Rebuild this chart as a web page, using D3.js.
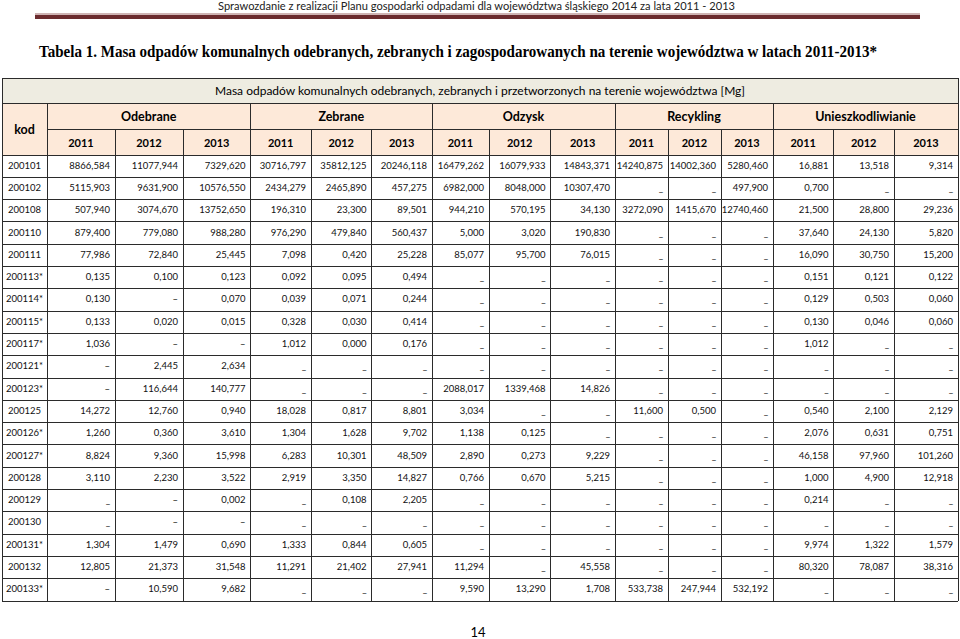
<!DOCTYPE html>
<html>
<head>
<meta charset="utf-8">
<script src="https://cdn.jsdelivr.net/npm/d3@7"></script>
<style>
  body { margin: 0; background: #fff; }
  svg { display: block; }
</style>
</head>
<body>
<div id="chart"></div>
<script>
// Table data ("–" and "_" are the two kinds of empty marks)
const groups = ["Odebrane", "Zebrane", "Odzysk", "Recykling", "Unieszkodliwianie"];
const years = ["2011", "2012", "2013"];
const codes = ["200101", "200102", "200108", "200110", "200111", "200113*", "200114*", "200115*",
  "200117*", "200121*", "200123*", "200125", "200126*", "200127*", "200128", "200129", "200130",
  "200131*", "200132", "200133*"];

const odebrane = [
  [8866.584, 11077.944, 7329.62], [5115.903, 9631.9, 10576.55], [507.94, 3074.67, 13752.65],
  [879.4, 779.08, 988.28], [77.986, 72.84, 25.445], [0.135, 0.1, 0.123], [0.13, "–", 0.07],
  [0.133, 0.02, 0.015], [1.036, "–", "–"], ["–", 2.445, 2.634], ["–", 116.644, 140.777],
  [14.272, 12.76, 0.94], [1.26, 0.36, 3.61], [8.824, 9.36, 15.998], [3.11, 2.23, 3.522],
  ["_", "–", 0.002], ["_", "–", "–"], [1.304, 1.479, 0.69], [12.805, 21.373, 31.548], ["–", 10.59, 9.682]
];
const zebrane = [
  [30716.797, 35812.125, 20246.118], [2434.279, 2465.89, 457.275], [196.31, 23.3, 89.501],
  [976.29, 479.84, 560.437], [7.098, 0.42, 25.228], [0.092, 0.095, 0.494], [0.039, 0.071, 0.244],
  [0.328, 0.03, 0.414], [1.012, 0.0, 0.176], ["_", "_", "_"], ["_", "_", "_"],
  [18.028, 0.817, 8.801], [1.304, 1.628, 9.702], [6.283, 10.301, 48.509], [2.919, 3.35, 14.827],
  ["_", 0.108, 2.205], ["_", "_", "_"], [1.333, 0.844, 0.605], [11.291, 21.402, 27.941], ["_", "_", "_"]
];
const odzysk = [
  [16479.262, 16079.933, 14843.371], [6982.0, 8048.0, 10307.47], [944.21, 570.195, 34.13],
  [5.0, 3.02, 190.83], [85.077, 95.7, 76.015], ["_", "_", "_"], ["_", "_", "_"], ["_", "_", "_"],
  ["_", "_", "_"], ["_", "_", "_"], [2088.017, 1339.468, 14.826], [3.034, "_", "_"],
  [1.138, 0.125, "_"], [2.89, 0.273, 9.229], [0.766, 0.67, 5.215], ["_", "_", "_"], ["_", "_", "_"],
  ["_", "_", "_"], [11.294, "_", 45.558], [9.59, 13.29, 1.708]
];
const recykling = [
  [14240.875, 14002.36, 5280.46], ["_", "_", 497.9], [3272.09, 1415.67, 12740.46],
  ["_", "_", "_"], ["_", "_", "_"], ["_", "_", "_"], ["_", "_", "_"], ["_", "_", "_"],
  ["_", "_", "_"], ["_", "_", "_"], ["_", "_", "_"], [11.6, 0.5, "_"], ["_", "_", "_"],
  ["_", "_", "_"], ["_", "_", "_"], ["_", "_", "_"], ["_", "_", "_"], ["_", "_", "_"],
  ["_", "_", "_"], [533.738, 247.944, 532.192]
];
const unieszkodliwianie = [
  [16.881, 13.518, 9.314], [0.7, "_", "_"], [21.5, 28.8, 29.236], [37.64, 24.13, 5.82],
  [16.09, 30.75, 15.2], [0.151, 0.121, 0.122], [0.129, 0.503, 0.06], [0.13, 0.046, 0.06],
  [1.012, "_", "_"], ["_", "_", "_"], ["_", "_", "_"], [0.54, 2.1, 2.129], [2.076, 0.631, 0.751],
  [46.158, 97.96, 101.26], [1.0, 4.9, 12.918], [0.214, "_", "_"], ["_", "_", "_"],
  [9.974, 1.322, 1.579], [80.32, 78.087, 38.316], ["_", "_", "_"]
];

const pageHeader = "Sprawozdanie z realizacji Planu gospodarki odpadami dla województwa śląskiego 2014 za lata 2011 - 2013";
const tableTitle = "Tabela 1. Masa odpadów komunalnych odebranych, zebranych i zagospodarowanych na terenie województwa w latach 2011-2013*";
const tableCaption = "Masa odpadów komunalnych odebranych, zebranych i przetworzonych na terenie województwa [Mg]";
const pageNumber = "14";

class DataTable {
  constructor(_config) {
    this.config = {
      parentElement: _config.parentElement,
      containerWidth: 960,
      containerHeight: 639,
      // table frame
      left: 2,
      right: 958,
      top: 78,
      captionBottom: 103,
      groupBottom: 129,
      headBottom: 155,
      bottom: 601,
      // relative widths of kod + 15 value columns
      colWeights: [45, 68, 68, 67.5, 60.5, 60.5, 60.5, 57, 61.5, 64.5, 53, 53, 52, 60.5, 60.5, 64],
      cellPadding: 5,
      font: "Lato, 'Open Sans', sans-serif",
    };
    this.initVis();
  }

  initVis() {
    let vis = this;
    const c = vis.config;

    vis.svg = d3.select(c.parentElement).append("svg")
      .attr("width", c.containerWidth)
      .attr("height", c.containerHeight);

    vis.svg.append("rect")
      .attr("width", c.containerWidth)
      .attr("height", c.containerHeight)
      .attr("fill", "#fff");

    // Column edges from the relative widths
    vis.edges = [0, ...d3.cumsum(c.colWeights)];
    vis.x = d3.scaleLinear()
      .domain([0, d3.sum(c.colWeights)])
      .range([c.left, c.right]);

    vis.y = d3.scaleBand()
      .domain(codes)
      .range([c.headBottom, c.bottom]);

    vis.fmt = d3.formatLocale({ decimal: ",", thousands: "\u00a0", grouping: [3], currency: ["", ""] })
      .format(".3f");

    vis.renderVis();
  }

  colLeft(i) { return this.x(this.edges[i]); }
  colRight(i) { return this.x(this.edges[i + 1]); }
  colMid(i) { return (this.colLeft(i) + this.colRight(i)) / 2; }

  renderVis() {
    let vis = this;
    const c = vis.config;

    // Running page header with the maroon rule under it
    vis.svg.append("text")
      .attr("x", 218)
      .attr("y", 10)
      .attr("textLength", 517)
      .attr("lengthAdjust", "spacingAndGlyphs")
      .style("font-family", "'Liberation Sans Narrow', " + c.font)
      .style("font-size", "11px")
      .style("fill", "#222")
      .text(pageHeader);

    vis.svg.append("rect")
      .attr("x", 35).attr("y", 13.5).attr("width", 885).attr("height", 1)
      .attr("fill", "#a06b6b");
    vis.svg.append("rect")
      .attr("x", 35).attr("y", 15).attr("width", 885).attr("height", 4)
      .attr("fill", "#6b2b2e");

    vis.svg.append("text")
      .attr("x", 39)
      .attr("y", 57)
      .attr("textLength", 838)
      .attr("lengthAdjust", "spacingAndGlyphs")
      .style("font-family", "'Liberation Serif', 'Times New Roman', serif")
      .style("font-weight", "bold")
      .style("font-size", "16.5px")
      .style("fill", "#000")
      .text(tableTitle);

    // Header backgrounds
    vis.svg.append("rect")
      .attr("x", c.left).attr("y", c.top)
      .attr("width", c.right - c.left).attr("height", c.captionBottom - c.top)
      .attr("fill", "#eeece1");
    vis.svg.append("rect")
      .attr("x", c.left).attr("y", c.captionBottom)
      .attr("width", c.right - c.left).attr("height", c.headBottom - c.captionBottom)
      .attr("fill", "#fde9d9");

    // Grid lines
    const grid = vis.svg.append("g")
      .attr("stroke", "#2b2b2b")
      .attr("stroke-width", 1)
      .attr("shape-rendering", "crispEdges");

    const hLines = [
      { y: c.top, x0: c.left },
      { y: c.captionBottom, x0: c.left },
      { y: c.groupBottom, x0: vis.colLeft(1) },
      { y: c.headBottom, x0: c.left },
      ...codes.slice(1).map((d) => ({ y: vis.y(d), x0: c.left })),
      { y: c.bottom, x0: c.left },
    ];
    grid.selectAll(".h-line")
      .data(hLines)
      .join("line")
      .attr("class", "h-line")
      .attr("x1", (d) => d.x0)
      .attr("x2", c.right)
      .attr("y1", (d) => d.y)
      .attr("y2", (d) => d.y);

    const vLines = d3.range(vis.edges.length).map((i) => {
      let y0 = c.groupBottom;
      if (i === 0 || i === vis.edges.length - 1) y0 = c.top;
      else if ((i - 1) % 3 === 0) y0 = c.captionBottom;
      return { x: vis.x(vis.edges[i]), y0 };
    });
    grid.selectAll(".v-line")
      .data(vLines)
      .join("line")
      .attr("class", "v-line")
      .attr("x1", (d) => d.x)
      .attr("x2", (d) => d.x)
      .attr("y1", (d) => d.y0)
      .attr("y2", c.bottom);

    // Header texts
    const head = vis.svg.append("g")
      .style("font-family", c.font)
      .style("fill", "#000")
      .attr("text-anchor", "middle")
      .attr("dominant-baseline", "central");

    head.append("text")
      .attr("x", (c.left + c.right) / 2)
      .attr("y", (c.top + c.captionBottom) / 2)
      .style("font-size", "12px")
      .text(tableCaption);

    head.append("text")
      .attr("x", vis.colMid(0))
      .attr("y", (c.captionBottom + c.headBottom) / 2)
      .style("font-size", "12.5px")
      .style("font-weight", "bold")
      .text("kod");

    head.selectAll(".group-label")
      .data(groups)
      .join("text")
      .attr("class", "group-label")
      .attr("x", (d, i) => (vis.colLeft(1 + i * 3) + vis.colRight(3 + i * 3)) / 2)
      .attr("y", (c.captionBottom + c.groupBottom) / 2)
      .style("font-size", "12.5px")
      .style("font-weight", "bold")
      .text((d) => d);

    head.selectAll(".year-label")
      .data(groups.flatMap((g, gi) => years.map((yr, yi) => ({ yr, col: 1 + gi * 3 + yi }))))
      .join("text")
      .attr("class", "year-label")
      .attr("x", (d) => vis.colMid(d.col))
      .attr("y", (c.groupBottom + c.headBottom) / 2)
      .style("font-size", "11px")
      .style("font-weight", "bold")
      .text((d) => d.yr);

    // Body cells
    const body = vis.svg.append("g")
      .style("font-family", c.font)
      .style("font-size", "9.5px")
      .style("fill", "#111")
      .attr("dominant-baseline", "central");

    body.selectAll(".code")
      .data(codes)
      .join("text")
      .attr("class", "code")
      .attr("text-anchor", "middle")
      .attr("x", vis.colMid(0))
      .attr("y", (d) => vis.y(d) + vis.y.bandwidth() / 2 - 1)
      .text((d) => d);

    const series = [odebrane, zebrane, odzysk, recykling, unieszkodliwianie];
    const cells = codes.flatMap((code, ri) =>
      series.flatMap((s, gi) => s[ri].map((v, yi) => ({ code, col: 1 + gi * 3 + yi, v })))
    );

    body.selectAll(".cell")
      .data(cells)
      .join("text")
      .attr("class", "cell")
      .attr("text-anchor", "end")
      .attr("x", (d) => vis.colRight(d.col) - c.cellPadding)
      .attr("y", (d) => vis.y(d.code) + vis.y.bandwidth() / 2 - 1)
      .text((d) => (typeof d.v === "number" ? vis.fmt(d.v) : d.v));

    // Page number
    vis.svg.append("text")
      .attr("x", 478)
      .attr("y", 637)
      .attr("text-anchor", "middle")
      .style("font-family", c.font)
      .style("font-size", "13px")
      .style("fill", "#000")
      .text(pageNumber);
  }
}

new DataTable({ parentElement: "#chart" });
</script>
</body>
</html>
